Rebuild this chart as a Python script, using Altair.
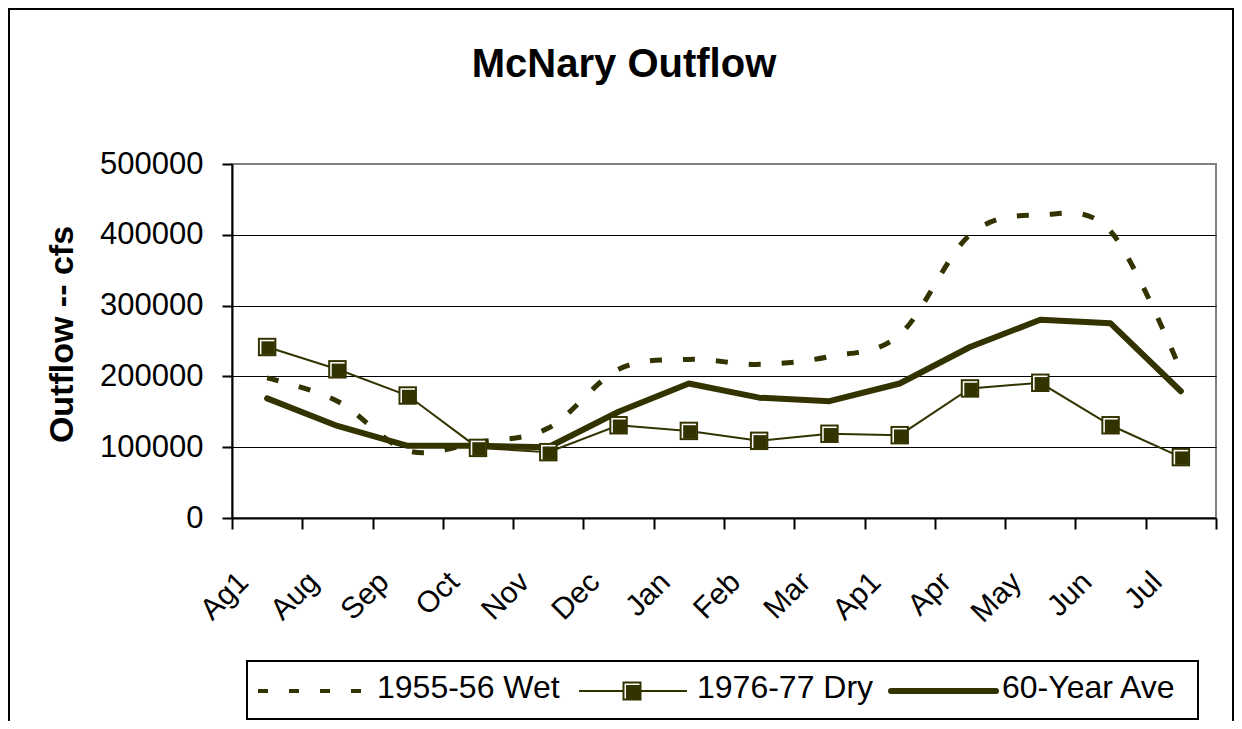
import altair as alt
import pandas as pd

months = ["Ag1", "Aug", "Sep", "Oct", "Nov", "Dec", "Jan", "Feb", "Mar", "Ap1", "Apr", "May", "Jun", "Jul"]
wet = [198000, 165000, 95000, 107000, 127000, 210000, 224000, 217000, 228000, 259000, 400000, 428000, 405000, 208000]
dry = [241500, 210000, 173000, 99000, 93000, 131000, 123000, 109000, 119000, 117000, 183000, 191000, 131000, 86000]
ave = [169000, 130000, 102000, 102000, 100000, 150000, 190000, 170000, 165000, 190000, 241500, 280000, 275000, 179000]
series_names = ["1955-56 Wet", "1976-77 Dry", "60-Year Ave"]
y_ticks = [0, 100000, 200000, 300000, 400000, 500000]

COLOR = "#333300"
FONT = "Liberation Sans"
W, H = 984, 354

df = pd.DataFrame({"month": months, "wet": wet, "dry": dry, "ave": ave})
one = pd.DataFrame({"k": [0]})

x_axis = alt.Axis(
    title=None, domainColor="black", domainWidth=2, tickColor="black", tickWidth=2,
    tickSize=11, tickBand="extent", labelAngle=-45, labelAlign="right",
    labelBaseline="middle", labelOffset=-24, labelPadding=48, labelFont=FONT,
    labelFontSize=30, labelColor="black", labelOverlap=False, labelBound=False,
    grid=False,
)
y_axis = alt.Axis(
    title="Outflow -- cfs", values=y_ticks, format="d", domainColor="black",
    domainWidth=2, tickColor="black", tickWidth=2, tickSize=10, labelPadding=19,
    labelFont=FONT, labelFontSize=31, labelColor="black", grid=True,
    gridColor=alt.condition("datum.value >= 500000", alt.value("#808080"), alt.value("black")),
    gridWidth=1, titleFont=FONT, titleFontSize=34, titleFontWeight="bold",
    titleColor="black", titleX=-170, titleY=170, titleAlign="center",
    titleBaseline="middle", titleAngle=-90,
)
x_scale = alt.Scale(type="band", paddingInner=0, paddingOuter=0)
y_scale = alt.Scale(domain=[0, 500000], nice=False)

def X():
    return alt.X("month:N", sort=months, scale=x_scale, axis=x_axis)

def Y(field):
    return alt.Y(f"{field}:Q", scale=y_scale, axis=y_axis)

base = alt.Chart(df)

wet_line = base.mark_line(color=COLOR, strokeWidth=5, strokeDash=[12, 21],
                          interpolate="cardinal", strokeCap="butt").encode(x=X(), y=Y("wet"))
ave_line = base.mark_line(color=COLOR, strokeWidth=6, strokeCap="round",
                          strokeJoin="round").encode(x=X(), y=Y("ave"))
dry_line = base.mark_line(color=COLOR, strokeWidth=2).encode(x=X(), y=Y("dry"))
dry_sq1 = base.mark_square(size=340, color=COLOR, opacity=1).encode(x=X(), y=Y("dry"))
dry_sq2 = base.mark_square(size=210, color="white", opacity=1).encode(x=X(), y=Y("dry"))
dry_sq3 = base.mark_square(size=180, color=COLOR, opacity=1, xOffset=1, yOffset=1).encode(x=X(), y=Y("dry"))

# decorations: outer frame, title, legend
deco = alt.Chart(one)
frame = deco.mark_rect(fillOpacity=0, stroke="black", strokeWidth=2).encode(
    x=alt.value(-223), x2=alt.value(1001), y=alt.value(-155), y2=alt.value(700))
title = deco.mark_text(text="McNary Outflow", font=FONT, fontSize=40, fontWeight="bold",
                       color="black", align="center", baseline="alphabetic").encode(
    x=alt.value(392), y=alt.value(-87))

LY = 527
leg_box = deco.mark_rect(fillOpacity=0, stroke="black", strokeWidth=2).encode(
    x=alt.value(15), x2=alt.value(966), y=alt.value(497), y2=alt.value(555))
leg_wet = deco.mark_rule(color=COLOR, strokeWidth=4, strokeDash=[10, 21]).encode(
    x=alt.value(26), x2=alt.value(130), y=alt.value(LY))
leg_dry = deco.mark_rule(color=COLOR, strokeWidth=2).encode(
    x=alt.value(347), x2=alt.value(455), y=alt.value(LY))
leg_sq1 = deco.mark_square(size=361, color=COLOR, opacity=1).encode(x=alt.value(400), y=alt.value(LY))
leg_sq2 = deco.mark_square(size=225, color="white", opacity=1).encode(x=alt.value(400), y=alt.value(LY))
leg_sq3 = deco.mark_square(size=196, color=COLOR, opacity=1, xOffset=1, yOffset=1).encode(
    x=alt.value(400), y=alt.value(LY))
leg_ave = deco.mark_rule(color=COLOR, strokeWidth=6, strokeCap="round").encode(
    x=alt.value(659), x2=alt.value(764), y=alt.value(LY))
text_x = [145, 465, 770]
leg_texts = [
    deco.mark_text(text=name, font=FONT, fontSize=32, color="black", align="left",
                   baseline="alphabetic").encode(x=alt.value(tx), y=alt.value(534))
    for name, tx in zip(series_names, text_x)
]

chart = alt.layer(
    frame, title, wet_line, ave_line, dry_line, dry_sq1, dry_sq2, dry_sq3,
    leg_box, leg_wet, leg_dry, leg_sq1, leg_sq2, leg_sq3, leg_ave, *leg_texts,
).properties(
    width=W, height=H,
    autosize=alt.AutoSizeParams(type="none"),
    padding={"left": 224, "top": 156, "right": 18, "bottom": 203},
    background="white",
).configure_view(
    stroke="#808080", strokeWidth=2,
)

chart.save("out.html", embed_options={"renderer": "svg", "actions": False})
